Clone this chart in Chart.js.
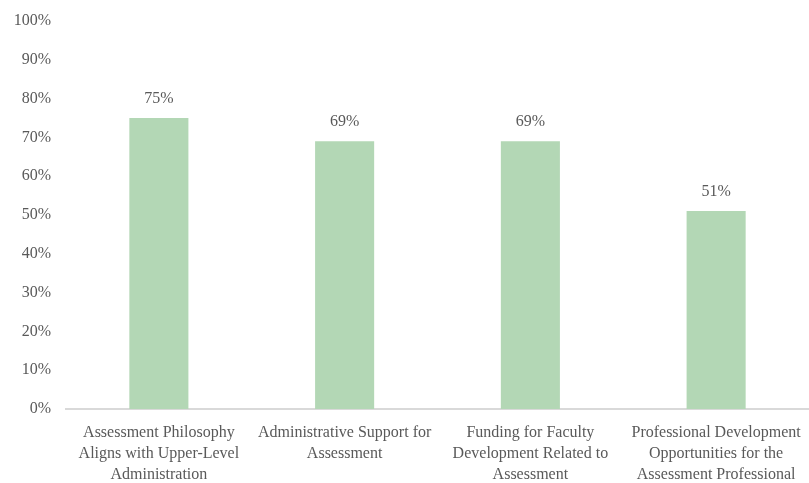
<!DOCTYPE html>
<html>
<head>
<meta charset="utf-8">
<script src="https://cdn.jsdelivr.net/npm/chart.js@4"></script>
<style>
  html, body { margin: 0; padding: 0; background: #fff; overflow: hidden; }
  #wrap { width: 809px; height: 483px; position: relative; }
</style>
</head>
<body>
<div id="wrap"><canvas id="chart"></canvas></div>
<script>
// chart data
const categories = [
    ['Assessment Philosophy', 'Aligns with Upper-Level', 'Administration'],
    ['Administrative Support for', 'Assessment'],
    ['Funding for Faculty', 'Development Related to', 'Assessment'],
    ['Professional Development', 'Opportunities for the', 'Assessment Professional']
];
const values = [75, 69, 69, 51];
const yTicks = [0, 10, 20, 30, 40, 50, 60, 70, 80, 90, 100];

const FONT = '"Liberation Serif", "DejaVu Serif", serif';
const TEXT = '#595959';

// simple value labels above each bar
const barLabels = {
    id: 'barLabels',
    afterDatasetsDraw(chart) {
        const ctx = chart.ctx;
        const meta = chart.getDatasetMeta(0);
        ctx.save();
        ctx.font = '16px ' + FONT;
        ctx.fillStyle = TEXT;
        ctx.textAlign = 'center';
        ctx.textBaseline = 'bottom';
        meta.data.forEach((bar, i) => {
            ctx.fillText(values[i] + '%', bar.x, bar.y - 11);
        });
        ctx.restore();
    }
};

const ctx = document.getElementById('chart').getContext('2d');
new Chart(ctx, {
    type: 'bar',
    data: {
        labels: categories,
        datasets: [{
            data: values,
            backgroundColor: '#b3d7b5',
            categoryPercentage: 1,
            barPercentage: 0.318
        }]
    },
    plugins: [barLabels],
    options: {
        responsive: true,
        maintainAspectRatio: false,
        animation: false,
        layout: { padding: { top: 21, right: 0, bottom: 0, left: 0 } },
        scales: {
            x: {
                afterFit(axis) {
                    axis.height = 74;
                    axis.paddingLeft = 0;
                    axis.paddingRight = 0;
                },
                grid: { display: false, drawTicks: false },
                border: { color: '#d9d9d9', width: 2 },
                ticks: {
                    color: TEXT,
                    font: { family: FONT, size: 16, lineHeight: 1.32 },
                    padding: 13,
                    maxRotation: 0,
                    autoSkip: false
                }
            },
            y: {
                min: 0,
                max: 100,
                afterBuildTicks(axis) {
                    axis.ticks = yTicks.map(v => ({ value: v }));
                },
                afterFit(axis) {
                    axis.width = 66;
                    axis.paddingTop = 0;
                    axis.paddingBottom = 0;
                },
                grid: { display: false, drawTicks: false },
                border: { display: false },
                ticks: {
                    color: TEXT,
                    font: { family: FONT, size: 16 },
                    padding: 15,
                    callback: v => v + '%'
                }
            }
        },
        plugins: {
            legend: { display: false },
            tooltip: { enabled: false }
        }
    }
});
</script>
</body>
</html>
